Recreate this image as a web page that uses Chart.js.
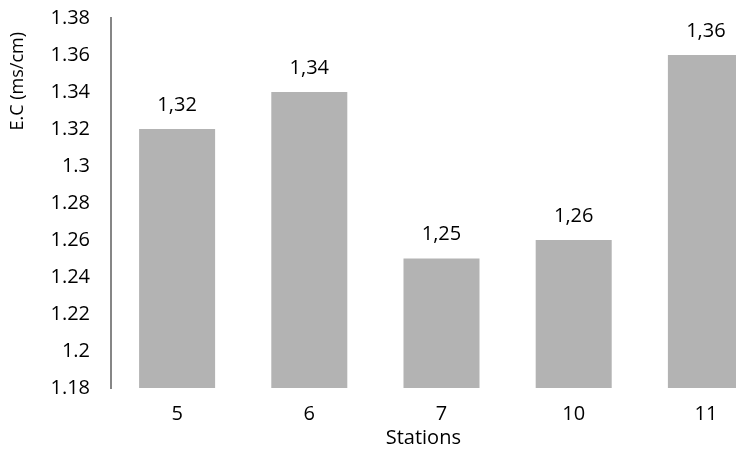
<!DOCTYPE html>
<html lang="en">
  <head>
    <meta charset="UTF-8" />
    <title>E.C by station</title>
    <style>
      html,
      body {
        margin: 0;
        padding: 0;
        background: #fff;
        overflow: hidden;
      }
      .chart-box {
        position: relative;
        width: 772px;
        height: 454px;
      }
    </style>
  </head>
  <body>
    <div class="chart-box">
      <canvas id="ecChart"></canvas>
    </div>

    <script src="https://cdn.jsdelivr.net/npm/chart.js@4/dist/chart.umd.min.js"></script>

    <!--Chart data-->
    <script>
      var stations = ["5", "6", "7", "10", "11"];
      var ecValues = [1.32, 1.34, 1.25, 1.26, 1.36];
      var yMin = 1.18;
      var yMax = 1.38;
      var yStep = 0.02;
    </script>

    <!--Chart building-->
    <script>
      var textFont = { family: "'Open Sans', sans-serif", size: 20 };

      // writes each bar's value above it, with a decimal comma
      var valueLabels = {
        id: "valueLabels",
        afterDatasetsDraw: function (chart) {
          var ctx = chart.ctx;
          var meta = chart.getDatasetMeta(0);
          ctx.save();
          ctx.font = "20px 'Open Sans', sans-serif";
          ctx.fillStyle = "#000";
          ctx.textAlign = "center";
          ctx.textBaseline = "middle";
          meta.data.forEach(function (bar, i) {
            var txt = ecValues[i].toFixed(2).replace(".", ",");
            ctx.fillText(txt, bar.x, bar.y - 24);
          });
          ctx.restore();
        },
      };

      function createChart() {
        var ctx = document.getElementById("ecChart").getContext("2d");
        var ecChart = new Chart(ctx, {
          type: "bar",
          data: {
            labels: stations,
            datasets: [
              {
                data: ecValues,
                backgroundColor: "#b3b3b3",
                borderWidth: 0,
                categoryPercentage: 1,
                barPercentage: 0.575,
              },
            ],
          },
          options: {
            responsive: true,
            maintainAspectRatio: false,
            animation: false,
            layout: { padding: { top: 18, left: 0, right: 0, bottom: 0 } },
            plugins: {
              legend: { display: false },
              tooltip: { enabled: false },
            },
            scales: {
              x: {
                grid: { display: false, drawTicks: false },
                border: { display: false },
                ticks: { color: "#000", font: textFont, padding: 14 },
                title: {
                  display: true,
                  // trailing spaces nudge the centred title a little left
                  text: "Stations       ",
                  color: "#000",
                  font: textFont,
                  padding: { top: 0, bottom: 4 },
                },
                afterFit: function (scale) {
                  scale.height = 66;
                  scale.paddingLeft = 0;
                  scale.paddingRight = 0;
                },
              },
              y: {
                min: yMin,
                max: yMax,
                grid: { display: false, drawTicks: false },
                border: { display: true, color: "#868686", width: 2 },
                ticks: {
                  stepSize: yStep,
                  color: "#000",
                  font: textFont,
                  padding: 21,
                  callback: function (v) {
                    return String(+v.toFixed(2));
                  },
                },
                title: {
                  display: true,
                  text: "E.C (ms/cm)   ",
                  align: "end",
                  color: "#000",
                  font: { family: "'Open Sans', sans-serif", size: 18 },
                  padding: { top: 7, bottom: 0 },
                },
                afterFit: function (scale) {
                  scale.width = 111;
                  scale.paddingTop = 0;
                  scale.paddingBottom = 0;
                },
              },
            },
          },
          plugins: [valueLabels],
        });
      }
      createChart();
    </script>
  </body>
</html>
